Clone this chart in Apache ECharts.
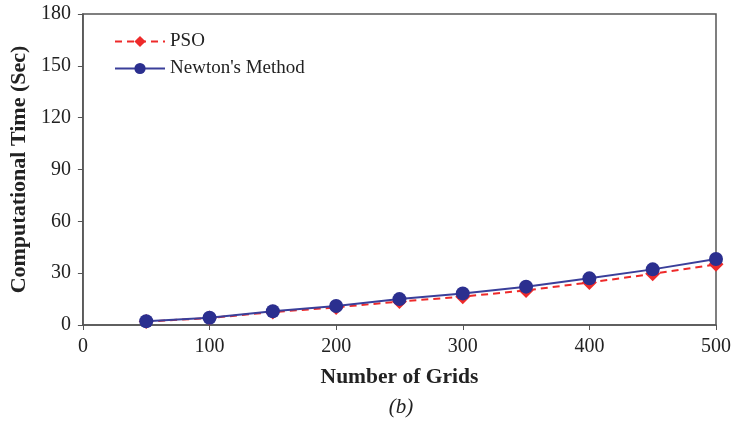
<!DOCTYPE html>
<html><head><meta charset="utf-8">
<script src="https://cdn.jsdelivr.net/npm/echarts@6/dist/echarts.min.js"></script>
<style>html,body{margin:0;padding:0;background:#fff}#c{width:734px;height:425px}</style>
</head><body><div id="c"></div>
<script>
const grids = [50, 100, 150, 200, 250, 300, 350, 400, 450, 500];
const psoTime = [2.0, 4.0, 7.5, 10.2, 13.6, 16.4, 20.0, 24.6, 29.6, 35.1];
const newtonTime = [2.2, 4.2, 8.0, 11.0, 15.0, 18.3, 22.2, 27.0, 32.2, 38.2];
const yTicks = [0, 30, 60, 90, 120, 150, 180];
const xTicks = [0, 100, 200, 300, 400, 500];

const font = 'Liberation Serif';
const chart = echarts.init(document.getElementById('c'));
chart.setOption({
  animation: false,
  backgroundColor: '#fff',
  grid: {left: 81, right: 15, top: 14, bottom: 100, show: true, borderColor: '#555', borderWidth: 1.5},
  legend: {
    orient: 'vertical', left: 109, top: 27, itemWidth: 50, itemHeight: 14, itemGap: 8,
    textStyle: {fontFamily: font, fontSize: 19, color: '#222'},
    data: ['PSO', "Newton's Method"]
  },
  xAxis: {
    type: 'value', min: xTicks[0], max: xTicks[xTicks.length - 1], interval: 100,
    name: 'Number of Grids', nameLocation: 'middle', nameGap: 41,
    nameTextStyle: {fontFamily: font, fontSize: 21.5, fontWeight: 'bold', color: '#222'},
    axisLine: {lineStyle: {color: '#555', width: 1.5}},
    axisTick: {show: true, length: 5, lineStyle: {color: '#555'}},
    axisLabel: {fontFamily: font, fontSize: 20, color: '#222', margin: 12},
    splitLine: {show: false}
  },
  yAxis: {
    type: 'value', min: yTicks[0], max: yTicks[yTicks.length - 1], interval: 30,
    name: 'Computational Time (Sec)', nameLocation: 'middle', nameGap: 46,
    nameTextStyle: {fontFamily: font, fontSize: 22, fontWeight: 'bold', color: '#222'},
    axisLine: {show: true, lineStyle: {color: '#555', width: 1.5}},
    axisTick: {show: true, length: 5, lineStyle: {color: '#555'}},
    axisLabel: {fontFamily: font, fontSize: 20, color: '#222', margin: 12},
    splitLine: {show: false}
  },
  graphic: [{
    type: 'text', x: 401, y: 397,
    style: {text: '(b)', font: 'italic 21px "Liberation Serif"', fill: '#222', textAlign: 'center', textVerticalAlign: 'top'}
  }],
  series: [
    {
      name: 'PSO', type: 'line', data: grids.map((g, i) => [g, psoTime[i]]),
      symbol: 'diamond', symbolSize: 15,
      lineStyle: {color: '#ee2a2a', width: 2, type: [7, 5]},
      itemStyle: {color: '#ee2a2a'}, z: 2
    },
    {
      name: "Newton's Method", type: 'line', data: grids.map((g, i) => [g, newtonTime[i]]),
      symbol: 'circle', symbolSize: 14,
      lineStyle: {color: '#3a3f9a', width: 2},
      itemStyle: {color: '#2b2f8f'}, z: 3
    }
  ]
});
</script></body></html>
